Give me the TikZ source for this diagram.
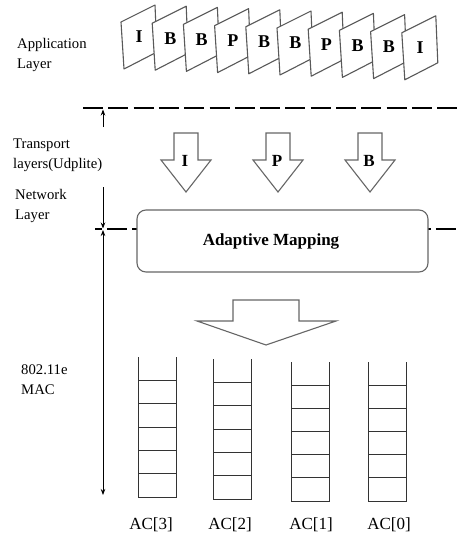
\documentclass[tikz,border=0pt]{standalone}
\usepackage{fontspec}
\setmainfont{Liberation Serif}
\usetikzlibrary{arrows.meta}
\begin{document}
\begin{tikzpicture}[x=1pt,y=-1pt,
  lbl/.style={anchor=west,align=left,inner sep=0pt,font=\fontsize{14.7}{20}\selectfont},
  frame/.style={draw=black!65,line width=1.1pt,fill=white,line join=round},
  flet/.style={inner sep=0pt,font=\fontsize{18}{18}\selectfont\bfseries},
  alet/.style={inner sep=0pt,font=\fontsize{17}{17}\selectfont\bfseries},
  hollow/.style={draw=black!60,line width=1.1pt,fill=white,line join=miter},
  divider/.style={line width=2.8pt,dash pattern=on 20pt off 5.3pt},
  tipA/.tip={Stealth[length=6pt,width=4.5pt]},
  dim/.style={line width=0.8pt,-tipA},
  queue/.style={draw=black!80,line width=0.9pt},
  aclbl/.style={inner sep=0pt,font=\fontsize{17}{17}\selectfont},
  mapbox/.style={draw=black!60,line width=1.1pt,fill=white,rounded corners=9pt,
    minimum width=291pt,minimum height=62pt,inner sep=0pt}
]
\fill[white] (0,0) rectangle (460,538);
\useasboundingbox (0,0) rectangle (460,538);

% layer labels
\node[lbl] (app) at (17,54.5) {Application\\Layer};
\node[lbl] (tr) at (13,155) {Transport\\layers(Udplite)};
\node[lbl] (net) at (15,205.5) {Network\\Layer};
\node[lbl] (mac) at (21,380) {802.11e\\MAC};

% video frames
\foreach \L [count=\i from 0] in {I,B,B,P,B,B,P,B,B,I} {
  \pgfmathsetmacro\fx{121+31.2*\i}
  \pgfmathsetmacro\fy{22+1.2*\i}
  \draw[frame] (\fx,\fy) -- ++(34,-17) -- ++(2,47) -- ++(-33,17) -- cycle;
  \node[flet] (f\i) at (\fx+18.25,\fy+15) {\L};
}

% dividers
\coordinate (d1s) at (83,108);
\coordinate (d1e) at (460,108);
\draw[divider] (d1s) -- (d1e);
\coordinate (d2s) at (95,229);
\coordinate (d2e) at (460,229);
\draw[divider,dash phase=13.3pt] (d2s) -- (d2e);

% layer extent arrows
\coordinate (u1) at (103,127);
\coordinate (u1t) at (103,109.5);
\draw[dim] (u1) -- (u1t);
\coordinate (n1) at (103,187);
\coordinate (n1t) at (103,228.5);
\draw[dim] (n1) -- (n1t);
\coordinate (m1) at (103,230);
\coordinate (m1t) at (103,495);
\draw[line width=0.8pt,tipA-tipA] (m1) -- (m1t);

% hollow arrows I P B
\foreach \c/\L/\n in {186/I/ai,278/P/ap,370/B/ab} {
  \draw[hollow] (\c-12,133) -- (\c+12,133) -- (\c+12,160) -- (\c+25,160)
    -- (\c,192) -- (\c-25,160) -- (\c-12,160) -- cycle;
  \node[alet] (\n) at (\c-1,161) {\L};
}

% adaptive mapping
\node[mapbox] (map) at (282.5,241) {};
\node[alet] (maptxt) at (271,241) {Adaptive Mapping};

% big arrow
\draw[hollow] (233,300) -- (299,300) -- (299,321) -- (336,321) -- (266,345)
  -- (197,321) -- (233,321) -- cycle;

% queues
\foreach \x/\t/\b/\n/\lx in {138/357/497/3/151,213/359/499/2/230,291/362/501/1/311,368/362/501/0/389} {
  \draw[queue] (\x,\t) -- (\x,\b) -- (\x+38,\b) -- (\x+38,\t);
  \foreach \k in {1,...,5}
    \draw[queue] (\x,{\t+(\b-\t)*\k/6}) -- (\x+38,{\t+(\b-\t)*\k/6});
  \node[aclbl] (ac\n) at (\lx,525) {AC[\n]};
}
\end{tikzpicture}
\end{document}
